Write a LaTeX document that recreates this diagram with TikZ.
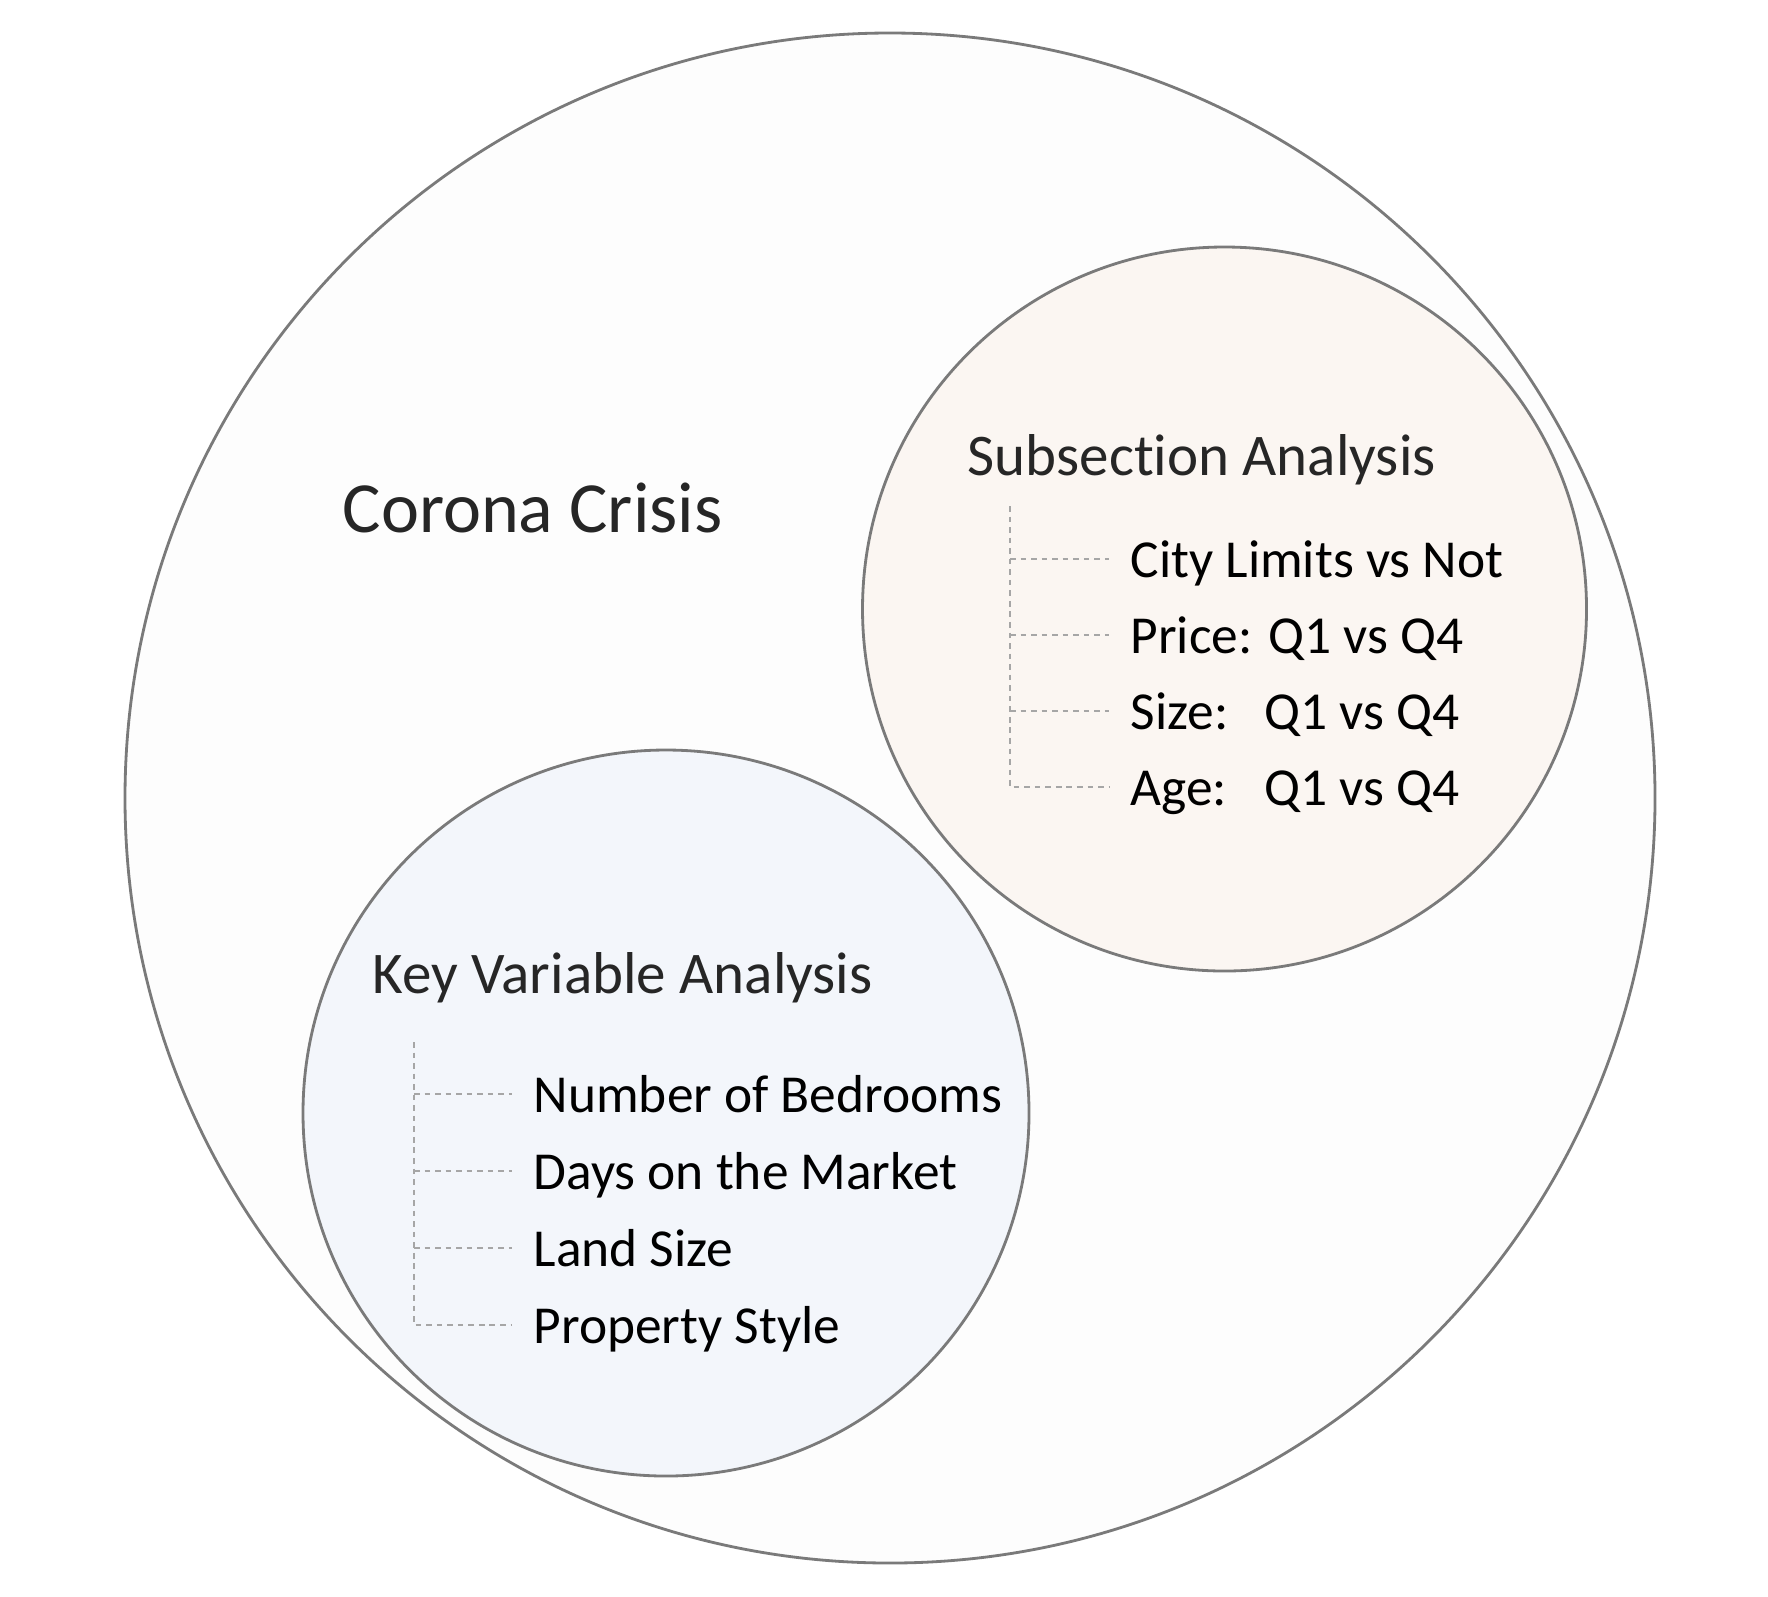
\documentclass[tikz,border=0pt]{standalone}
\usepackage{fontspec}
\setmainfont{Carlito}[Ligatures=NoCommon]
\usepackage{calc}
\usetikzlibrary{positioning}

\definecolor{rimgray}{HTML}{7A7A7A}
\definecolor{dashgray}{HTML}{A6A6A6}
\definecolor{crisisfill}{HTML}{FDFDFD}
\definecolor{subfill}{HTML}{FBF6F2}
\definecolor{keyfill}{HTML}{F3F6FB}
\definecolor{headtext}{HTML}{262626}

\newcommand{\qlabel}[1]{\makebox[\widthof{Price:\ }][l]{#1}}

\begin{document}
\begin{tikzpicture}[
    set/.style={circle,draw=rimgray,line width=0.8pt,inner sep=0pt},
    title/.style={font=\fontsize{20.5}{25}\selectfont,text=headtext,inner sep=0pt,anchor=base west},
    head/.style={font=\fontsize{16.8}{20}\selectfont,text=headtext,inner sep=0pt,anchor=base west},
    item/.style={font=\fontsize{15.2}{18}\selectfont,text=black,inner sep=0pt,anchor=base west},
    tree/.style={draw=dashgray,line width=0.4pt,dash pattern=on 1.6pt off 1.4pt,shorten >=0.21cm}]
  \useasboundingbox (0,0) rectangle (17.68,-15.96);
  \node[set,fill=crisisfill,minimum size=15.30cm] (crisis) at (8.90,-7.98) {};
  \node[set,fill=subfill,minimum size=7.24cm] (subsec) at (12.245,-6.09) {};
  \node[set,fill=keyfill,minimum size=7.26cm] (keyvar) at (6.66,-11.13) {};
  \node[title] (crisislbl) at (3.42,-5.32) {Corona Crisis};
  % subsection analysis
  \node[head] (subhead) at (9.67,-4.75) {Subsection Analysis};
  \node[item] (s1) at (11.30,-5.77) {City Limits vs Not};
  \node[item] (s2) [below=0.76cm of s1.base west,anchor=base west] {Price: Q1 vs Q4};
  \node[item] (s3) [below=0.76cm of s2.base west,anchor=base west] {\qlabel{Size:}Q1 vs Q4};
  \node[item] (s4) [below=0.76cm of s3.base west,anchor=base west] {\qlabel{Age:}Q1 vs Q4};
  \coordinate (stop) at (10.10,-5.06);
  \foreach \i in {1,...,4}
    \coordinate (s\i m) at ([yshift=0.18cm]s\i.base west);
  \path[tree] (stop) |- (s4m);
  \foreach \i in {1,2,3}
    \path[tree] (stop |- s\i m) -- (s\i m);
  % key variable analysis
  \node[head] (keyhead) at (3.72,-9.93) {Key Variable Analysis};
  \node[item] (k1) at (5.33,-11.12) {Number of Bedrooms};
  \node[item] (k2) [below=0.77cm of k1.base west,anchor=base west] {Days on the Market};
  \node[item] (k3) [below=0.77cm of k2.base west,anchor=base west] {Land Size};
  \node[item] (k4) [below=0.77cm of k3.base west,anchor=base west] {Property Style};
  \coordinate (ktop) at (4.14,-10.42);
  \foreach \i in {1,...,4}
    \coordinate (k\i m) at ([yshift=0.18cm]k\i.base west);
  \path[tree] (ktop) |- (k4m);
  \foreach \i in {1,2,3}
    \path[tree] (ktop |- k\i m) -- (k\i m);
\end{tikzpicture}
\end{document}
